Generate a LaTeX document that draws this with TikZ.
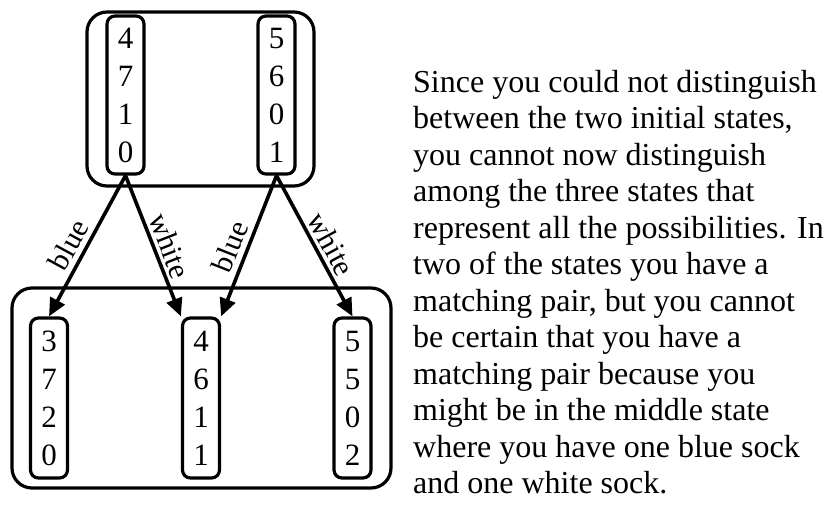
\documentclass[tikz,border=0pt]{standalone}
\usepackage{fontspec}
\setmainfont{Liberation Serif}
\usetikzlibrary{arrows.meta}
\tikzset{
  statebox/.style={draw, line width=3.2pt, rounded corners=8pt, minimum width=37pt,
    minimum height=158pt, inner sep=0pt, align=center, font=\fontsize{31}{38}\selectfont},
  groupbox/.style={draw, line width=3.2pt, rounded corners=20pt, inner sep=0pt},
  trans/.style={line width=3.6pt, -{Triangle[length=18pt,width=16pt]}},
  lab/.style={font=\fontsize{30}{32}\selectfont, sloped, inner sep=3.5pt},
  bluelab/.style={lab, inner sep=5pt},
  note/.style={font=\fontsize{32}{36.5}\selectfont, align=left, inner sep=0pt, anchor=north west}
}
\begin{document}
\begin{tikzpicture}[x=1pt,y=-1pt]
\useasboundingbox (0,0) rectangle (824,519);
% group boxes
\node[groupbox, minimum width=227pt, minimum height=174pt] (topgroup) at (200.5,99) {};
\node[groupbox, minimum width=379pt, minimum height=200pt] (botgroup) at (201.5,388) {};
% states
\node[statebox] (a) at (125.5,95) {4\\7\\1\\0};
\node[statebox] (b) at (276.5,95) {5\\6\\0\\1};
\node[statebox, minimum height=160pt] (c) at (49,398) {3\\7\\2\\0};
\node[statebox, minimum height=160pt] (d) at (201,398) {4\\6\\1\\1};
\node[statebox, minimum height=160pt] (e) at (352.5,398) {5\\5\\0\\2};
% transitions
\draw[trans] (a.south) -- (c.north) node[bluelab, pos=0.55, above] {blue};
\draw[trans] (a.south) -- (d.north west) node[lab, pos=0.54, above] {white};
\draw[trans] (b.south) -- (d.north east) node[bluelab, pos=0.55, above] {blue};
\draw[trans] (b.south) -- (e.north) node[lab, pos=0.54, above] {white};
% explanation
\node[note] (txt) at (413,70) {Since you could not distinguish\\
between the two initial states,\\
you cannot now distinguish\\
among the three states that\\
represent all the possibilities. In\\
two of the states you have a\\
matching pair, but you cannot\\
be certain that you have a\\
matching pair because you\\
might be in the middle state\\
where you have one blue sock\\
and one white sock.};
\end{tikzpicture}
\end{document}
